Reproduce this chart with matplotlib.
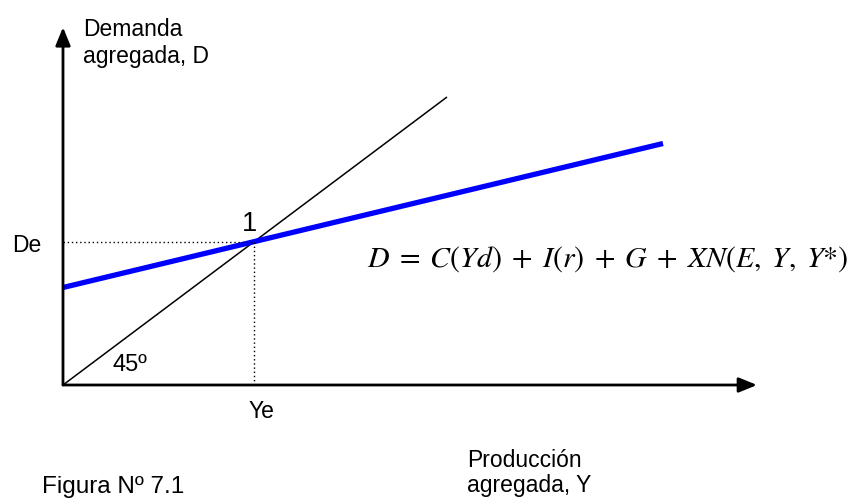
import matplotlib
matplotlib.use("Agg")
import matplotlib.pyplot as plt

plt.rcParams['font.family'] = ['Liberation Sans', 'DejaVu Sans']
plt.rcParams['mathtext.fontset'] = 'stix'

# Data (model units)
Y_line = [0, 600]          # output range for aggregate demand line
D_line = [130, 322]        # aggregate demand values
Y45 = [0, 384]             # 45-degree line
D45 = [0, 384]
Ye = 191                   # equilibrium output
De = 191                   # equilibrium demand
x_axis_end = 694
y_axis_end = 477

W, H = 853, 498
OX, OY, SY = 63, 385, 0.75


def px(x, y):
    """pixel position -> data coords (for text placement)"""
    return x - OX, (OY - y) / SY


fig = plt.figure(figsize=(W / 100, H / 100), dpi=100)
ax = fig.add_axes([0, 0, 1, 1])
ax.set_xlim(-OX, W - OX)
ax.set_ylim(-(H - OY) / SY, OY / SY)
ax.axis('off')

arrow = dict(arrowstyle='-|>,head_length=1.1,head_width=0.45', lw=2, color='black',
             shrinkA=0, shrinkB=0)
ax.annotate('', xy=(x_axis_end, 0), xytext=(0, 0), arrowprops=arrow)
ax.annotate('', xy=(0, y_axis_end), xytext=(0, 0), arrowprops=arrow)

# 45 degree line
ax.plot(Y45, D45, color='black', lw=1.1, solid_capstyle='butt')
# aggregate demand
ax.plot(Y_line, D_line, color='#0000ff', lw=3.8, solid_capstyle='butt')
# dotted guides
ax.plot([0, Ye], [De, De], color='black', lw=1, linestyle=(0, (1, 2)))
ax.plot([Ye, Ye], [0, De], color='black', lw=1, linestyle=(0, (1, 2)))

fs = 16.5
ax.text(*px(83, 63), 'Demanda\nagregada, D', fontsize=fs, va='baseline', ha='left',
        linespacing=1.2, multialignment='left')
ax.text(*px(12, 245), 'De', fontsize=fs, va='center', ha='left')
ax.text(*px(250, 231), '1', fontsize=19.5, va='baseline', ha='center')
ax.text(*px(113, 371), '45º', fontsize=17, va='baseline', ha='left')
ax.text(*px(261, 418), 'Ye', fontsize=fs, va='baseline', ha='center')
ax.text(*px(367, 267),
        r'$D\;=\;C(Yd)\;+\;I(r)\;+\;G\;+\;XN(E,\;Y,\;Y{*})$',
        fontsize=21.5, va='baseline', ha='left')
ax.text(*px(467, 492), 'Producción\nagregada, Y', fontsize=fs, va='baseline', ha='left',
        linespacing=1.1, multialignment='left')
ax.text(*px(42, 493), 'Figura Nº 7.1', fontsize=17.5, va='baseline', ha='left')

fig.savefig('out.png', dpi=100)
